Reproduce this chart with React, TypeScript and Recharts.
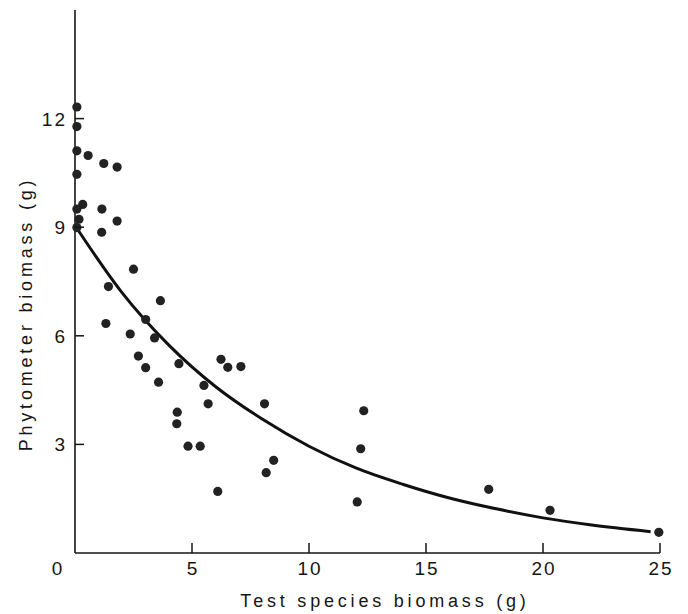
import React from 'react';
import { ComposedChart, Scatter, Line, XAxis, YAxis, Label } from 'recharts';

// observed plots: test species biomass (g) vs phytometer biomass (g)
const pointX = [
  0.08, 0.08, 0.08, 0.08, 0.08, 0.17, 0.08,
  0.33, 0.56, 1.15, 1.14, 1.23, 1.8, 1.8, 2.5, 1.43, 3.65, 3.02, 1.32, 2.36,
  3.4, 2.71, 4.44, 3.02, 3.57, 4.37, 4.35, 4.83, 5.35, 5.51, 5.69, 6.24,
  6.53, 7.09, 8.1, 8.49, 8.17, 6.1, 12.34, 12.21, 12.06, 17.68, 20.3, 24.95,
];
const pointY = [
  12.32, 11.78, 11.11, 10.46, 9.5, 9.22, 8.99,
  9.63, 10.98, 9.5, 8.86, 10.76, 10.66, 9.17, 7.84, 7.36, 6.97, 6.45, 6.34, 6.05,
  5.94, 5.44, 5.23, 5.12, 4.72, 3.89, 3.57, 2.95, 2.95, 4.63, 4.12, 5.35,
  5.13, 5.15, 4.12, 2.56, 2.22, 1.7, 3.93, 2.88, 1.41, 1.76, 1.18, 0.57,
];

// fitted curve
const fitX = [0.1, 2, 4, 6, 8, 10, 12, 14, 16, 18, 20, 22, 24.6];
const fitY = [8.95, 7.2, 5.75, 4.6, 3.7, 2.95, 2.35, 1.9, 1.52, 1.22, 0.97, 0.78, 0.59];

const xTicks = [0, 5, 10, 15, 20, 25];
const yTicks = [3, 6, 9, 12];

const points = pointX.map((x, i) => ({ x, y: pointY[i] }));
const fit = fitX.map((x, i) => ({ x, y: fitY[i] }));

const FONT = '"Liberation Sans", Arial, Helvetica, sans-serif';
const INK = '#161616';

// ticks in this figure point inward, so the mark is drawn with the label
const XTick = (props: any) => {
  const { x, y, payload } = props;
  const isZero = payload.value === 0;
  return (
    <g>
      {!isZero && <line x1={x} y1={y} x2={x} y2={y - 10} stroke={INK} strokeWidth={1.5} />}
      <text x={x + (isZero ? -18 : 0) + 1} y={y + 22} textAnchor="middle" fontFamily={FONT} fontSize={19} letterSpacing={2} fill={INK}>
        {payload.value}
      </text>
    </g>
  );
};

const YTick = (props: any) => {
  const { x, y, payload } = props;
  return (
    <g>
      <line x1={x} y1={y} x2={x + 9} y2={y} stroke={INK} strokeWidth={1.5} />
      <text x={x - 8} y={y + 7} textAnchor="end" fontFamily={FONT} fontSize={19} letterSpacing={2} fill={INK}>
        {payload.value}
      </text>
    </g>
  );
};

const Dot = (props: any) => <circle cx={props.cx} cy={props.cy} r={4.6} fill="#222" />;

export default function App() {
  return (
    <div style={{ width: 680, height: 606, background: '#fff' }}>
      <ComposedChart width={680} height={606} margin={{ top: 2, right: 28, bottom: 0, left: 0 }}>
        <XAxis
          type="number"
          dataKey="x"
          domain={[0, 25]}
          ticks={xTicks}
          height={61}
          axisLine={{ stroke: INK, strokeWidth: 1.6 }}
          tickLine={false}
          tickSize={0}
          tickMargin={0}
          tick={<XTick />}
        >
          <Label
            content={() => (
              <text x={377} y={599} textAnchor="middle" fontFamily={FONT} fontSize={18} letterSpacing={3.8} fill={INK}>
                Test species biomass (g)
              </text>
            )}
          />
        </XAxis>
        <YAxis
          type="number"
          dataKey="y"
          domain={[0, 15]}
          ticks={yTicks}
          width={67}
          axisLine={{ stroke: INK, strokeWidth: 1.6 }}
          tickLine={false}
          tickSize={0}
          tickMargin={0}
          tick={<YTick />}
        >
          <Label
            content={() => (
              <text
                x={24}
                y={306}
                transform="rotate(-90, 24, 306)"
                textAnchor="middle"
                fontFamily={FONT}
                fontSize={18}
                letterSpacing={3.8}
                fill={INK}
              >
                Phytometer biomass (g)
              </text>
            )}
          />
        </YAxis>
        <Line
          data={fit}
          type="monotone"
          dataKey="y"
          stroke="#111"
          strokeWidth={3}
          dot={false}
          activeDot={false}
          isAnimationActive={false}
        />
        <Scatter data={points} dataKey="y" fill="#222" shape={<Dot />} isAnimationActive={false} />
      </ComposedChart>
    </div>
  );
}
